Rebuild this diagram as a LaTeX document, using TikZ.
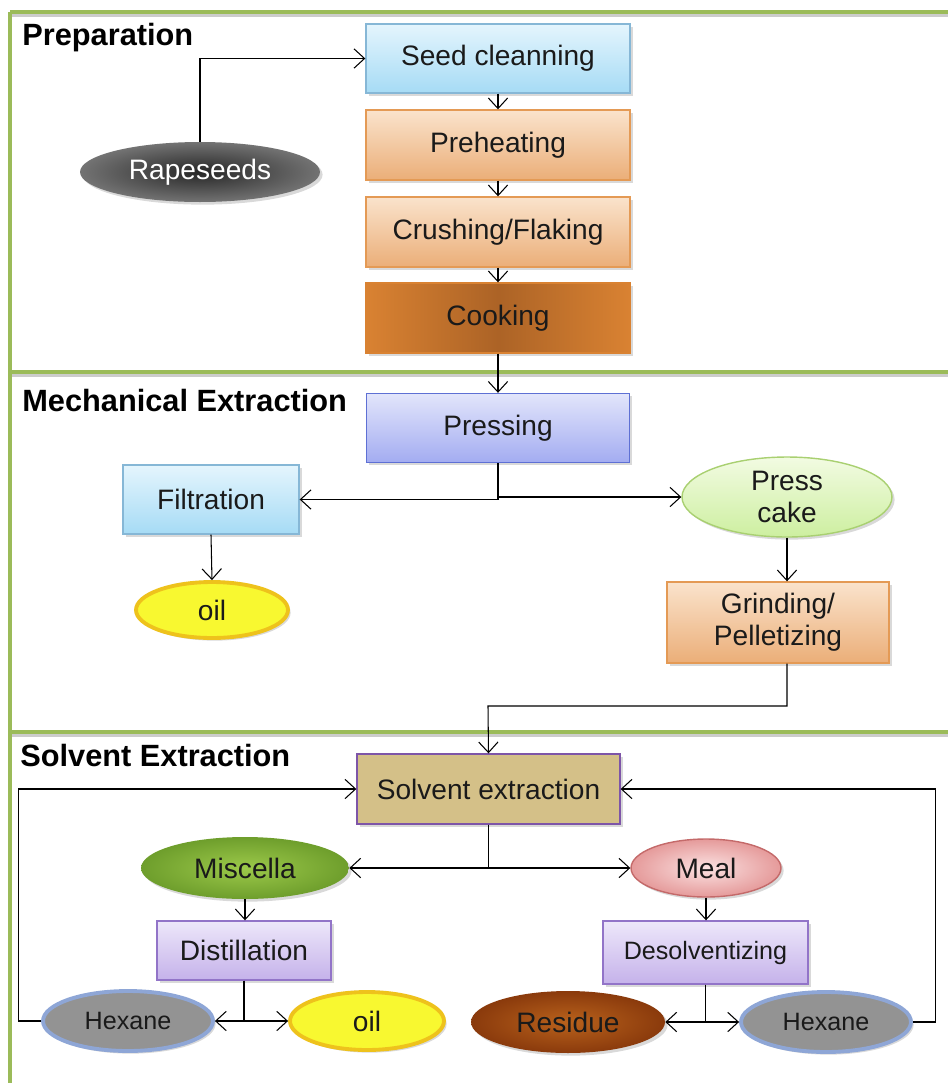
\documentclass[tikz,border=0pt]{standalone}
\usepackage{fontspec}
\setmainfont{Liberation Sans}
\usepackage{xcolor}
\usepackage{tikz}
\usetikzlibrary{shadows}
\usetikzlibrary{positioning}
\usetikzlibrary{arrows,arrows.meta,shapes}
\usetikzlibrary{calc}

\definecolor{framegreen}{HTML}{9BBB59}
\definecolor{txt}{HTML}{1A1A1A}
\definecolor{bluetop}{HTML}{E4F5FD}
\definecolor{bluebot}{HTML}{A6DBF5}
\definecolor{blueline}{HTML}{86B7D6}
\definecolor{orgtop}{HTML}{FAE3CC}
\definecolor{orgbot}{HTML}{EBAE78}
\definecolor{orgline}{HTML}{E49A55}
\definecolor{cookedge}{HTML}{D98232}
\definecolor{cookmid}{HTML}{AC6326}
\definecolor{presstop}{HTML}{E2E5FB}
\definecolor{pressbot}{HTML}{A3ACF1}
\definecolor{pressline}{HTML}{5E70D4}
\definecolor{lilactop}{HTML}{EDE7FA}
\definecolor{lilacbot}{HTML}{C5B2EA}
\definecolor{lilacline}{HTML}{9274C8}
\definecolor{tan}{HTML}{D4C088}
\definecolor{tanline}{HTML}{7E55A8}
\definecolor{misclight}{HTML}{9CC94A}
\definecolor{miscdark}{HTML}{6E9E2C}
\definecolor{caketop}{HTML}{F2FBE2}
\definecolor{cakebot}{HTML}{CDEFA0}
\definecolor{cakeline}{HTML}{A9D071}
\definecolor{mealin}{HTML}{FBE2E2}
\definecolor{mealout}{HTML}{E59A9A}
\definecolor{mealline}{HTML}{C46A6A}
\definecolor{residin}{HTML}{B9621C}
\definecolor{residout}{HTML}{8A3A0C}
\definecolor{oilfill}{HTML}{F8F830}
\definecolor{oilline}{HTML}{EEC21C}
\definecolor{hexfill}{HTML}{939393}
\definecolor{hexline}{HTML}{8EA6D6}

\tikzset{
  fnt/.style={font=\fontsize{16}{18}\selectfont, text=txt},
  fntsm/.style={font=\fontsize{14.3}{17}\selectfont, text=txt},
  title/.style={anchor=west, inner sep=0pt, font=\fontsize{17.5}{20}\selectfont\bfseries},
  shad/.style={drop shadow={opacity=0.3, shadow xshift=1.5pt, shadow yshift=-1.5pt}},
  box/.style={rectangle, draw, thick, shad, fnt, align=center},
  oval/.style={ellipse, inner sep=0pt, shad, fnt, align=center},
  bluebox/.style={box, draw=blueline, top color=bluetop, bottom color=bluebot},
  orangebox/.style={box, draw=orgline, top color=orgtop, bottom color=orgbot},
  lilacbox/.style={box, draw=lilacline, top color=lilactop, bottom color=lilacbot},
  hexane/.style={oval, fntsm, fill=hexfill, draw=hexline, line width=2.2pt, minimum width=3.4cm, minimum height=1.2cm},
  oilnode/.style={oval, fill=oilfill, draw=oilline, line width=2.2pt},
  link/.style={semithick, ->},
  frame/.style={framegreen, line width=1.8pt},
  >={Straight Barb[length=6pt,width=11pt]}
}

\begin{document}
\begin{tikzpicture}[x=0.02cm, y=0.02cm]
 \useasboundingbox (0,0) rectangle (948,-1083);

 %frame
 \foreach \yy in {12,372,732}{
   \draw[gray!40, line width=2pt] (12,-\yy-3) -- (948,-\yy-3);
   \draw[frame] (10,-\yy) -- (948,-\yy);
 }
 \draw[frame] (10,-12) -- (10,-1083);

 %titles
 \node[title] (t1) at (22,-38) {Preparation};
 \node[title] (t2) at (22,-401) {Mechanical Extraction};
 \node[title] (t3) at (20,-755) {Solvent Extraction};

 %preparation
 \node[bluebox, minimum width=5.28cm, minimum height=1.38cm] (seed) at (498,-58.5) {Seed cleanning};
 \node[orangebox, minimum width=5.28cm, minimum height=1.4cm] (preheat) at (498,-145) {Preheating};
 \node[orangebox, minimum width=5.28cm, minimum height=1.4cm] (crush) at (498,-232) {Crushing/Flaking};
 \node[box, draw=cookedge, left color=cookedge, right color=cookedge, middle color=cookmid, minimum width=5.28cm, minimum height=1.4cm] (cook) at (498,-318) {Cooking};
 \node[oval, text=white, inner color=black!85, outer color=black!55, minimum width=4.8cm, minimum height=1.2cm] (rape) at (200,-172) {Rapeseeds};

 %mechanical
 \node[box, draw=pressline, top color=presstop, bottom color=pressbot, minimum width=5.26cm, minimum height=1.38cm] (press) at (498,-428) {Pressing};
 \node[bluebox, minimum width=3.52cm, minimum height=1.38cm] (filt) at (211,-499.5) {Filtration};
 \node[oval, draw=cakeline, thick, top color=caketop, bottom color=cakebot, minimum width=4.2cm, minimum height=1.6cm] (cake) at (787,-497) {Press\\cake};
 \node[oilnode, minimum width=3.04cm, minimum height=1.12cm] (oil1) at (212,-610) {oil};
 \node[orangebox, minimum width=4.44cm, minimum height=1.62cm] (grind) at (778,-622.5) {Grinding/\\Pelletizing};

 %solvent
 \node[box, draw=tanline, fill=tan, minimum width=5.26cm, minimum height=1.4cm] (solv) at (488.5,-789) {Solvent extraction};
 \node[oval, inner color=misclight, outer color=miscdark, minimum width=4.16cm, minimum height=1.24cm] (misc) at (245,-868) {Miscella};
 \node[oval, draw=mealline, thick, inner color=mealin, outer color=mealout, minimum width=3cm, minimum height=1.16cm] (meal) at (706,-868) {Meal};
 \node[lilacbox, minimum width=3.48cm, minimum height=1.18cm] (dist) at (244,-950.5) {Distillation};
 \node[lilacbox, fntsm, minimum width=4.1cm, minimum height=1.26cm] (desol) at (705.5,-952.5) {Desolventizing};
 \node[hexane] (hex1) at (128,-1021) {Hexane};
 \node[oilnode, minimum width=3.08cm, minimum height=1.16cm] (oil2) at (367,-1021) {oil};
 \node[oval, inner color=residin, outer color=residout, minimum width=3.88cm, minimum height=1.24cm] (resid) at (568,-1022) {Residue};
 \node[hexane] (hex2) at (826,-1022) {Hexane};

 %lines
 \draw[link] (rape.north) |- (seed.west);
 \draw[link] (seed.south) -- (preheat.north);
 \draw[link] (preheat.south) -- (crush.north);
 \draw[link] (crush.south) -- (cook.north);
 \draw[link] (cook.south) -- (press.north);

 \draw[link] (press.south) |- (filt.east);
 \draw[link] (press.south) |- (cake.west);
 \draw[link] (filt.south) -- (oil1.north);
 \draw[link] (cake.south) -- (cake.south |- grind.north);
 \coordinate (bend) at (488,-706);
 \draw[link] (cake.south |- grind.south) |- (bend) -- (solv.north);

 \draw[link] (hex1.west) -- ++(-23,0) |- (solv.west);
 \draw[link] (hex2.east) -- ++(23,0) |- (solv.east);
 \draw[link] (solv.south) |- (misc.east);
 \draw[link] (solv.south) |- (meal.west);
 \draw[link] (misc.south) -- (misc.south |- dist.north);
 \draw[link] (meal.south) -- (meal.south |- desol.north);
 \draw[link] (dist.south) |- (hex1.east);
 \draw[link] (dist.south) |- (oil2.west);
 \draw[link] (desol.south) |- (resid.east);
 \draw[link] (desol.south) |- (hex2.west);

\end{tikzpicture}
\end{document}
